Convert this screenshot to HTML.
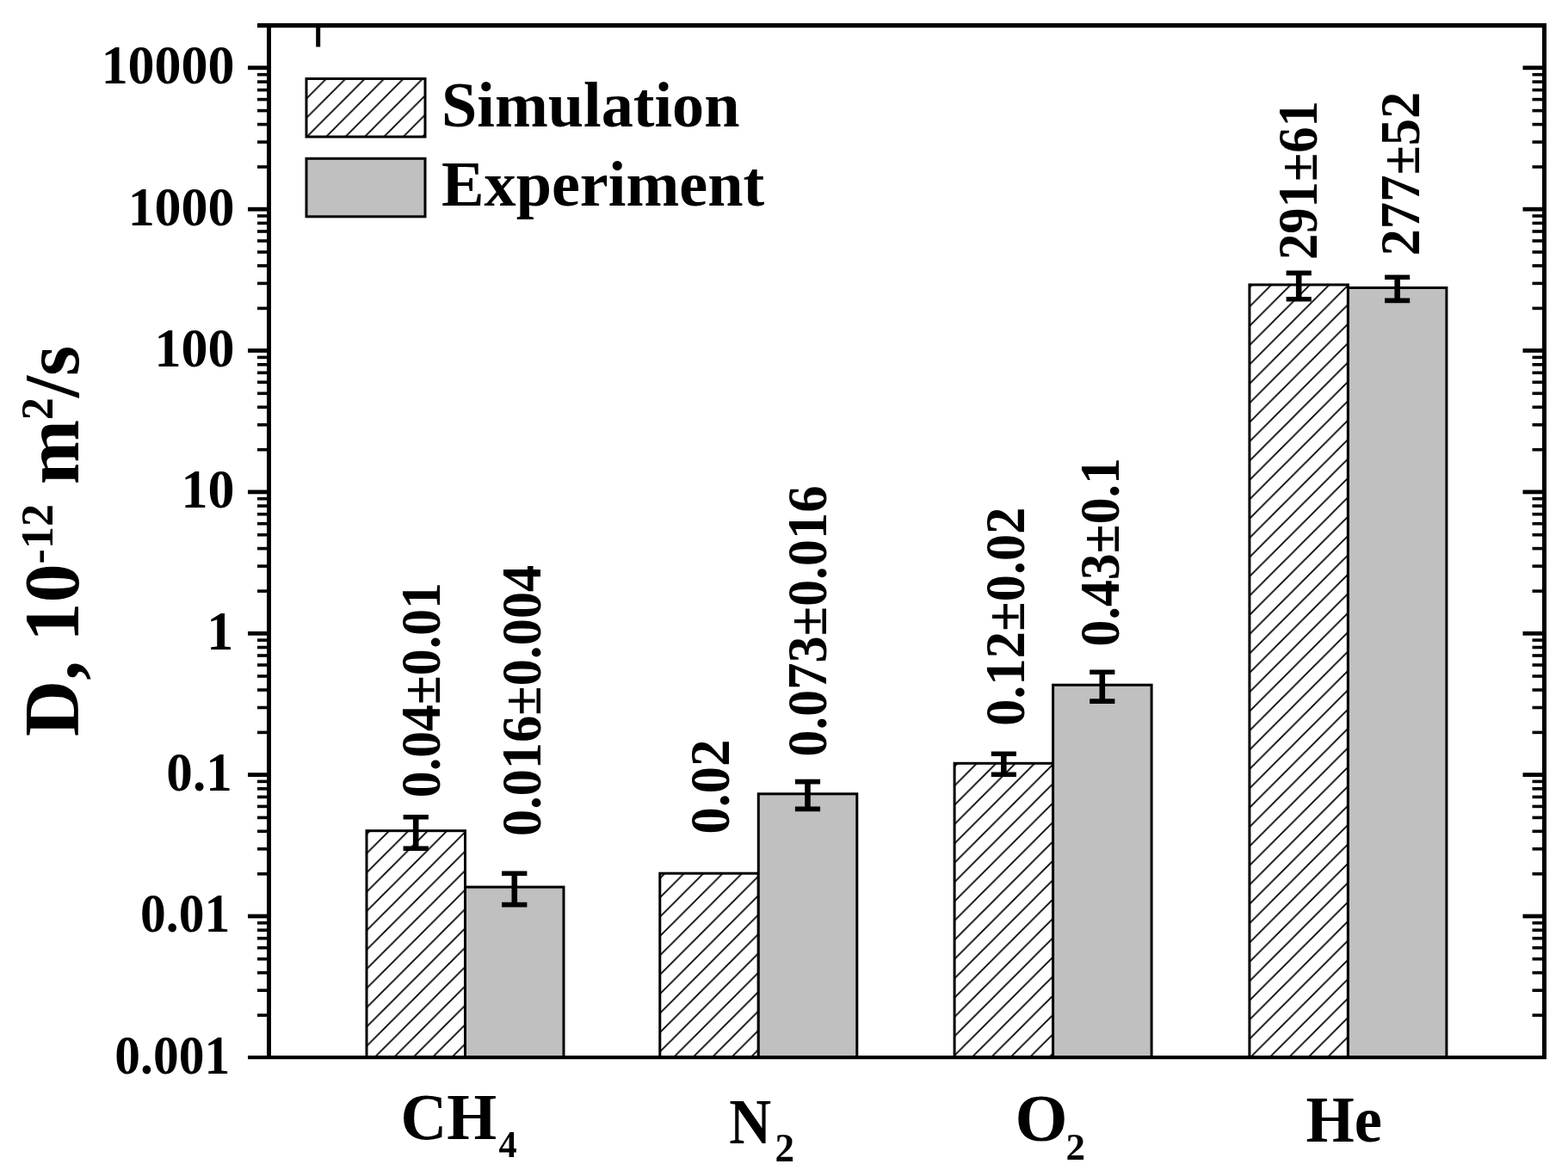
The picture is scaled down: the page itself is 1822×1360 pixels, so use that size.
<!DOCTYPE html>
<html lang="en">
<head>
<meta charset="utf-8">
<title>Diffusion coefficients: simulation vs experiment</title>
<style>
html,body{margin:0;padding:0;background:#fff;}
body{width:1822px;height:1360px;overflow:hidden;}
svg{display:block;}
text{font-family:"Liberation Serif","DejaVu Serif",serif;font-weight:bold;fill:#000;}
</style>
</head>
<body>
<svg width="1822" height="1360" viewBox="0 0 1822 1360" role="img" aria-label="Bar chart of diffusion coefficients D for CH4, N2, O2 and He: simulation versus experiment">
<defs>
<pattern id="h0" patternUnits="userSpaceOnUse" width="22.4" height="22.4" x="0.3" y="0"><path d="M-2,24.4 L24.4,-2 M-2,2 L2,-2 M20.4,24.4 L24.4,20.4" stroke="#000" stroke-width="1.8" fill="none"/></pattern>
<pattern id="h1" patternUnits="userSpaceOnUse" width="22.4" height="22.4" x="6.8" y="0"><path d="M-2,24.4 L24.4,-2 M-2,2 L2,-2 M20.4,24.4 L24.4,20.4" stroke="#000" stroke-width="1.8" fill="none"/></pattern>
<pattern id="h2" patternUnits="userSpaceOnUse" width="22.4" height="22.4" x="18.2" y="0"><path d="M-2,24.4 L24.4,-2 M-2,2 L2,-2 M20.4,24.4 L24.4,20.4" stroke="#000" stroke-width="1.8" fill="none"/></pattern>
<pattern id="h3" patternUnits="userSpaceOnUse" width="22.4" height="22.4" x="6.4" y="0"><path d="M-2,24.4 L24.4,-2 M-2,2 L2,-2 M20.4,24.4 L24.4,20.4" stroke="#000" stroke-width="1.8" fill="none"/></pattern>
<pattern id="h4" patternUnits="userSpaceOnUse" width="22.4" height="22.4" x="16.4" y="0"><path d="M-2,24.4 L24.4,-2 M-2,2 L2,-2 M20.4,24.4 L24.4,20.4" stroke="#000" stroke-width="1.8" fill="none"/></pattern>
</defs>
<rect x="0" y="0" width="1822" height="1360" fill="#fff"/>
<g id="bars">
<rect x="426.0" y="965.7" width="114.5" height="263.3" fill="url(#h1)" stroke="#000" stroke-width="3"/>
<rect x="540.5" y="1031.1" width="114.5" height="197.9" fill="#c0c0c0" stroke="#000" stroke-width="3"/>
<rect x="766.8" y="1015.2" width="114.5" height="213.8" fill="url(#h2)" stroke="#000" stroke-width="3"/>
<rect x="881.3" y="922.8" width="114.5" height="306.2" fill="#c0c0c0" stroke="#000" stroke-width="3"/>
<rect x="1109.1" y="887.3" width="114.5" height="341.7" fill="url(#h3)" stroke="#000" stroke-width="3"/>
<rect x="1223.6" y="796.2" width="114.5" height="432.8" fill="#c0c0c0" stroke="#000" stroke-width="3"/>
<rect x="1451.9" y="331.0" width="114.5" height="898.0" fill="url(#h4)" stroke="#000" stroke-width="3"/>
<rect x="1566.4" y="334.5" width="114.5" height="894.5" fill="#c0c0c0" stroke="#000" stroke-width="3"/>
</g>
<g id="errorbars" stroke="#000" fill="none">
<path d="M483.2,949.8 V986.2" stroke-width="6.6"/>
<path d="M468.6,949.8 H497.9 M468.6,986.2 H497.9" stroke-width="5.6"/>
<path d="M597.8,1015.2 V1051.6" stroke-width="6.6"/>
<path d="M583.1,1015.2 H612.4 M583.1,1051.6 H612.4" stroke-width="5.6"/>
<path d="M938.5,908.6 V940.4" stroke-width="6.6"/>
<path d="M923.9,908.6 H953.1 M923.9,940.4 H953.1" stroke-width="5.6"/>
<path d="M1166.3,876.3 V900.3" stroke-width="6.6"/>
<path d="M1151.8,876.3 H1180.9 M1151.8,900.3 H1180.9" stroke-width="5.6"/>
<path d="M1280.8,781.3 V815.1" stroke-width="6.6"/>
<path d="M1266.2,781.3 H1295.4 M1266.2,815.1 H1295.4" stroke-width="5.6"/>
<path d="M1509.2,317.4 V347.8" stroke-width="6.6"/>
<path d="M1494.6,317.4 H1523.8 M1494.6,347.8 H1523.8" stroke-width="5.6"/>
<path d="M1623.7,322.2 V349.4" stroke-width="6.6"/>
<path d="M1609.1,322.2 H1638.2 M1609.1,349.4 H1638.2" stroke-width="5.6"/>
</g>
<g id="axes" fill="#000">
<rect x="299" y="27" width="1498" height="5.2"/>
<rect x="310" y="27" width="5" height="1204"/>
<rect x="1792" y="27" width="5" height="1204"/>
<rect x="288" y="1227" width="1509" height="4.2"/>
<rect x="367.2" y="30" width="5" height="24.5"/>
<rect x="299" y="1178.3" width="12" height="3.6"/>
<rect x="1780.5" y="1178.3" width="12" height="3.6"/>
<rect x="299" y="1149.4" width="12" height="3.6"/>
<rect x="1780.5" y="1149.4" width="12" height="3.6"/>
<rect x="299" y="1128.9" width="12" height="3.6"/>
<rect x="1780.5" y="1128.9" width="12" height="3.6"/>
<rect x="299" y="1112.9" width="12" height="3.6"/>
<rect x="1780.5" y="1112.9" width="12" height="3.6"/>
<rect x="299" y="1099.9" width="12" height="3.6"/>
<rect x="1780.5" y="1099.9" width="12" height="3.6"/>
<rect x="299" y="1088.9" width="12" height="3.6"/>
<rect x="1780.5" y="1088.9" width="12" height="3.6"/>
<rect x="299" y="1079.4" width="12" height="3.6"/>
<rect x="1780.5" y="1079.4" width="12" height="3.6"/>
<rect x="299" y="1071.0" width="12" height="3.6"/>
<rect x="1780.5" y="1071.0" width="12" height="3.6"/>
<rect x="288" y="1062.6" width="23" height="4.8"/>
<rect x="1769.5" y="1062.6" width="23" height="4.8"/>
<rect x="299" y="1014.0" width="12" height="3.6"/>
<rect x="1780.5" y="1014.0" width="12" height="3.6"/>
<rect x="299" y="985.0" width="12" height="3.6"/>
<rect x="1780.5" y="985.0" width="12" height="3.6"/>
<rect x="299" y="964.5" width="12" height="3.6"/>
<rect x="1780.5" y="964.5" width="12" height="3.6"/>
<rect x="299" y="948.6" width="12" height="3.6"/>
<rect x="1780.5" y="948.6" width="12" height="3.6"/>
<rect x="299" y="935.6" width="12" height="3.6"/>
<rect x="1780.5" y="935.6" width="12" height="3.6"/>
<rect x="299" y="924.6" width="12" height="3.6"/>
<rect x="1780.5" y="924.6" width="12" height="3.6"/>
<rect x="299" y="915.0" width="12" height="3.6"/>
<rect x="1780.5" y="915.0" width="12" height="3.6"/>
<rect x="299" y="906.6" width="12" height="3.6"/>
<rect x="1780.5" y="906.6" width="12" height="3.6"/>
<rect x="288" y="898.2" width="23" height="4.8"/>
<rect x="1769.5" y="898.2" width="23" height="4.8"/>
<rect x="299" y="849.6" width="12" height="3.6"/>
<rect x="1780.5" y="849.6" width="12" height="3.6"/>
<rect x="299" y="820.7" width="12" height="3.6"/>
<rect x="1780.5" y="820.7" width="12" height="3.6"/>
<rect x="299" y="800.2" width="12" height="3.6"/>
<rect x="1780.5" y="800.2" width="12" height="3.6"/>
<rect x="299" y="784.2" width="12" height="3.6"/>
<rect x="1780.5" y="784.2" width="12" height="3.6"/>
<rect x="299" y="771.2" width="12" height="3.6"/>
<rect x="1780.5" y="771.2" width="12" height="3.6"/>
<rect x="299" y="760.2" width="12" height="3.6"/>
<rect x="1780.5" y="760.2" width="12" height="3.6"/>
<rect x="299" y="750.7" width="12" height="3.6"/>
<rect x="1780.5" y="750.7" width="12" height="3.6"/>
<rect x="299" y="742.3" width="12" height="3.6"/>
<rect x="1780.5" y="742.3" width="12" height="3.6"/>
<rect x="288" y="733.9" width="23" height="4.8"/>
<rect x="1769.5" y="733.9" width="23" height="4.8"/>
<rect x="299" y="685.3" width="12" height="3.6"/>
<rect x="1780.5" y="685.3" width="12" height="3.6"/>
<rect x="299" y="656.3" width="12" height="3.6"/>
<rect x="1780.5" y="656.3" width="12" height="3.6"/>
<rect x="299" y="635.8" width="12" height="3.6"/>
<rect x="1780.5" y="635.8" width="12" height="3.6"/>
<rect x="299" y="619.9" width="12" height="3.6"/>
<rect x="1780.5" y="619.9" width="12" height="3.6"/>
<rect x="299" y="606.9" width="12" height="3.6"/>
<rect x="1780.5" y="606.9" width="12" height="3.6"/>
<rect x="299" y="595.9" width="12" height="3.6"/>
<rect x="1780.5" y="595.9" width="12" height="3.6"/>
<rect x="299" y="586.3" width="12" height="3.6"/>
<rect x="1780.5" y="586.3" width="12" height="3.6"/>
<rect x="299" y="577.9" width="12" height="3.6"/>
<rect x="1780.5" y="577.9" width="12" height="3.6"/>
<rect x="288" y="569.5" width="23" height="4.8"/>
<rect x="1769.5" y="569.5" width="23" height="4.8"/>
<rect x="299" y="520.9" width="12" height="3.6"/>
<rect x="1780.5" y="520.9" width="12" height="3.6"/>
<rect x="299" y="492.0" width="12" height="3.6"/>
<rect x="1780.5" y="492.0" width="12" height="3.6"/>
<rect x="299" y="471.5" width="12" height="3.6"/>
<rect x="1780.5" y="471.5" width="12" height="3.6"/>
<rect x="299" y="455.5" width="12" height="3.6"/>
<rect x="1780.5" y="455.5" width="12" height="3.6"/>
<rect x="299" y="442.5" width="12" height="3.6"/>
<rect x="1780.5" y="442.5" width="12" height="3.6"/>
<rect x="299" y="431.5" width="12" height="3.6"/>
<rect x="1780.5" y="431.5" width="12" height="3.6"/>
<rect x="299" y="422.0" width="12" height="3.6"/>
<rect x="1780.5" y="422.0" width="12" height="3.6"/>
<rect x="299" y="413.6" width="12" height="3.6"/>
<rect x="1780.5" y="413.6" width="12" height="3.6"/>
<rect x="288" y="405.1" width="23" height="4.8"/>
<rect x="1769.5" y="405.1" width="23" height="4.8"/>
<rect x="299" y="356.6" width="12" height="3.6"/>
<rect x="1780.5" y="356.6" width="12" height="3.6"/>
<rect x="299" y="327.6" width="12" height="3.6"/>
<rect x="1780.5" y="327.6" width="12" height="3.6"/>
<rect x="299" y="307.1" width="12" height="3.6"/>
<rect x="1780.5" y="307.1" width="12" height="3.6"/>
<rect x="299" y="291.2" width="12" height="3.6"/>
<rect x="1780.5" y="291.2" width="12" height="3.6"/>
<rect x="299" y="278.2" width="12" height="3.6"/>
<rect x="1780.5" y="278.2" width="12" height="3.6"/>
<rect x="299" y="267.2" width="12" height="3.6"/>
<rect x="1780.5" y="267.2" width="12" height="3.6"/>
<rect x="299" y="257.6" width="12" height="3.6"/>
<rect x="1780.5" y="257.6" width="12" height="3.6"/>
<rect x="299" y="249.2" width="12" height="3.6"/>
<rect x="1780.5" y="249.2" width="12" height="3.6"/>
<rect x="288" y="240.8" width="23" height="4.8"/>
<rect x="1769.5" y="240.8" width="23" height="4.8"/>
<rect x="299" y="192.2" width="12" height="3.6"/>
<rect x="1780.5" y="192.2" width="12" height="3.6"/>
<rect x="299" y="163.3" width="12" height="3.6"/>
<rect x="1780.5" y="163.3" width="12" height="3.6"/>
<rect x="299" y="142.8" width="12" height="3.6"/>
<rect x="1780.5" y="142.8" width="12" height="3.6"/>
<rect x="299" y="126.8" width="12" height="3.6"/>
<rect x="1780.5" y="126.8" width="12" height="3.6"/>
<rect x="299" y="113.8" width="12" height="3.6"/>
<rect x="1780.5" y="113.8" width="12" height="3.6"/>
<rect x="299" y="102.8" width="12" height="3.6"/>
<rect x="1780.5" y="102.8" width="12" height="3.6"/>
<rect x="299" y="93.3" width="12" height="3.6"/>
<rect x="1780.5" y="93.3" width="12" height="3.6"/>
<rect x="299" y="84.9" width="12" height="3.6"/>
<rect x="1780.5" y="84.9" width="12" height="3.6"/>
<rect x="288" y="76.4" width="23" height="4.8"/>
<rect x="1769.5" y="76.4" width="23" height="4.8"/>
<rect x="299" y="27.9" width="12" height="3.6"/>
<rect x="1780.5" y="27.9" width="12" height="3.6"/>
</g>
<g id="ticklabels" text-anchor="end">
<text transform="translate(272.6,97.2) scale(1.0,1.03)" font-size="62">10000</text>
<text transform="translate(272.6,261.6) scale(1.0,1.03)" font-size="62">1000</text>
<text transform="translate(272.6,425.9) scale(1.0,1.03)" font-size="62">100</text>
<text transform="translate(272.6,590.3) scale(1.0,1.03)" font-size="62">10</text>
<text transform="translate(271.2,754.7) scale(1.0,1.03)" font-size="62">1</text>
<text transform="translate(269.7,919.0) scale(0.985,1.03)" font-size="62">0.1</text>
<text transform="translate(267.2,1083.4) scale(0.96,1.03)" font-size="62">0.01</text>
<text transform="translate(267.2,1247.7) scale(0.96,1.03)" font-size="62">0.001</text>
</g>
<text id="ytitle" transform="translate(91,856) rotate(-90) scale(1.003,1)" font-size="90">D, 10<tspan font-size="52" dy="-30">-12</tspan><tspan dy="30"> m</tspan><tspan font-size="52" dy="-30">2</tspan><tspan dy="30">/s</tspan></text>
<g id="legend">
<rect x="356" y="91.5" width="138" height="67.5" fill="url(#h0)" stroke="#000" stroke-width="3"/>
<rect x="356" y="184.3" width="138" height="67.5" fill="#c0c0c0" stroke="#000" stroke-width="3"/>
<text transform="translate(513,146.9) scale(0.99,1)" font-size="75">Simulation</text>
<text transform="translate(513,239.0) scale(0.99,1)" font-size="75">Experiment</text>
</g>
<g id="categories">
<text transform="translate(465.5,1324.4) scale(0.967,0.99)" font-size="77">CH</text>
<text transform="translate(579.5,1345) scale(0.94,1)" font-size="45">4</text>
<text transform="translate(847.2,1329.4) scale(0.88,0.97)" font-size="77">N</text>
<text transform="translate(900.5,1350.4) scale(1,1.02)" font-size="45">2</text>
<text transform="translate(1179.6,1326.3) scale(1.02,1.02)" font-size="77">O</text>
<text transform="translate(1238.5,1347.5) scale(1,1)" font-size="45">2</text>
<text transform="translate(1517.5,1327.3) scale(0.94,0.975)" font-size="77">He</text>
</g>
<g id="values">
<text transform="translate(511.0,927.2) rotate(-90) scale(0.981,1.04)" font-size="63">0.04±0.01</text>
<text transform="translate(627.9,972.3) rotate(-90) scale(0.992,1.04)" font-size="63">0.016±0.004</text>
<text transform="translate(846.7,969.7) rotate(-90) scale(1.0,1.04)" font-size="63">0.02</text>
<text transform="translate(959.9,879.8) rotate(-90) scale(0.991,1.04)" font-size="63">0.073±0.016</text>
<text transform="translate(1189.5,844) rotate(-90) scale(0.998,1.04)" font-size="63">0.12±0.02</text>
<text transform="translate(1299.5,751.5) rotate(-90) scale(0.982,1.04)" font-size="63">0.43±0.1</text>
<text transform="translate(1529.5,302) rotate(-90) scale(0.962,1.04)" font-size="63">291±61</text>
<text transform="translate(1648.5,297.4) rotate(-90) scale(0.993,1.04)" font-size="63">277±52</text>
</g>
</svg>
</body>
</html>
